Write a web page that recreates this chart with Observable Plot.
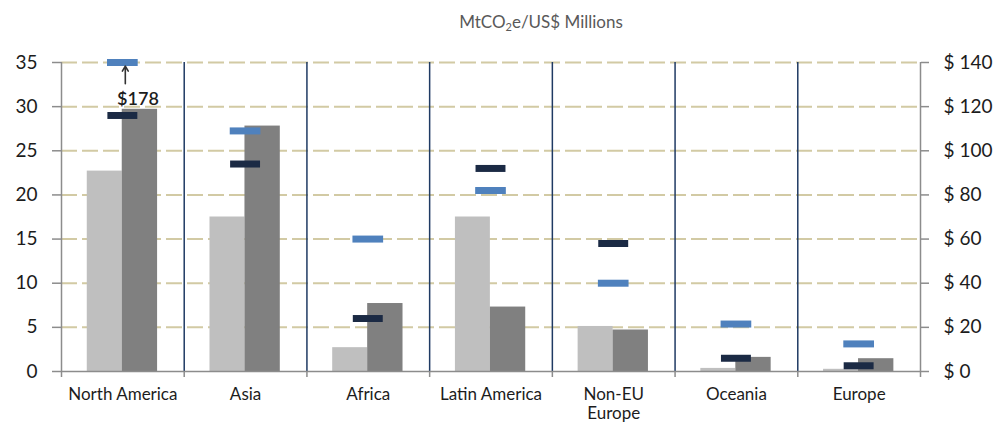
<!DOCTYPE html>
<html>
<head>
<meta charset="utf-8">
<script src="https://cdn.jsdelivr.net/npm/d3@7"></script>
<script src="https://cdn.jsdelivr.net/npm/@observablehq/plot@0.6"></script>
<style>
  html, body { margin: 0; padding: 0; background: #fff; }
  #wrap { position: relative; width: 1000px; height: 427px; overflow: hidden; font-family: Lato, "Open Sans", sans-serif; }
  #title { position: absolute; top: 11px; left: 541px; transform: translateX(-50%); font-size: 17px; color: #595959; white-space: nowrap; }
  #title sub { font-size: 11px; vertical-align: -3px; line-height: 0; }
  #chart { position: absolute; top: 40px; left: 0; }
</style>
</head>
<body>
<div id="wrap">
  <div id="title">MtCO<sub>2</sub>e/US$ Millions</div>
  <div id="chart"></div>
</div>
<script>
// Data
const categories = ["North America", "Asia", "Africa", "Latin America", "Non-EU Europe", "Oceania", "Europe"];
const categoryLabels = ["North America", "Asia", "Africa", "Latin America", "Non-EU\nEurope", "Oceania", "Europe"];
const lightBars = [22.7, 17.5, 2.7, 17.5, 5.1, 0.35, 0.25];   // MtCO2e (left axis)
const darkBars = [29.7, 27.8, 7.7, 7.3, 4.7, 1.6, 1.45];      // MtCO2e (left axis)
const navyDollars = [116, 94, 24, 92, 58, 6, 2.6];            // US$ millions (right axis)
const blueDollars = [178, 109, 60, 82, 40, 21.5, 12.5];       // US$ millions (right axis)
const leftTicks = [0, 5, 10, 15, 20, 25, 30, 35];
const dollarTicks = [0, 20, 40, 60, 80, 100, 120, 140];

const leftMax = 35, dollarMax = 140;
const ratio = dollarMax / leftMax;

const rows = categories.map((c, i) => ({
  i, category: c,
  light: lightBars[i], dark: darkBars[i],
  navy: Math.min(navyDollars[i], dollarMax) / ratio,
  blue: Math.min(blueDollars[i], dollarMax) / ratio
}));
const clipped = rows.filter((d, k) => blueDollars[k] > dollarMax).map(d => ({...d, value: blueDollars[d.i]}));

const gray = "#8c8c8c";
const textColor = "#1c1c1c";

const chart = Plot.plot({
  width: 1000,
  height: 387,
  marginTop: 22,
  marginBottom: 56,
  marginLeft: 61,
  marginRight: 80,
  x: {domain: [0, categories.length], axis: null},
  y: {domain: [0, leftMax], axis: null},
  style: {fontFamily: "Lato, 'Open Sans', sans-serif", fontSize: "18px", color: textColor, background: "white", overflow: "visible"},
  marks: [
    Plot.ruleY(leftTicks.filter(d => d > 0), {stroke: "#d2caa4", strokeWidth: 2, strokeDasharray: "16,5"}),
    Plot.rect(rows, {x1: d => d.i + 0.21, x2: d => d.i + 0.495, y1: d => 0, y2: "light", fill: "#bfbfbf"}),
    Plot.rect(rows, {x1: d => d.i + 0.495, x2: d => d.i + 0.783, y1: d => 0, y2: "dark", fill: "#808080"}),
    Plot.ruleX(d3.range(1, categories.length), {stroke: "#1f3a63", strokeWidth: 1.5}),
    Plot.ruleX([0, categories.length], {stroke: gray, strokeWidth: 1.5}),
    Plot.ruleY([0], {stroke: gray, strokeWidth: 1.5}),
    Plot.ruleY(rows, {x1: d => d.i + 0.378, x2: d => d.i + 0.622, y: "navy", stroke: "#1b2a44", strokeWidth: 7}),
    Plot.ruleY(rows, {x1: d => d.i + 0.375, x2: d => d.i + 0.625, y: "blue", stroke: "#4f81bd", strokeWidth: 7}),
    Plot.arrow(clipped, {x1: d => d.i + 0.52, x2: d => d.i + 0.52, y1: d => d.blue - 2.4, y2: d => d.blue - 0.4, stroke: "#333", strokeWidth: 1.6, headLength: 9, bend: 0}),
    Plot.text(clipped, {x: d => d.i + 0.623, y: d => d.blue - 4.15, text: d => "$" + d.value, fontSize: 18, fontWeight: 600, fill: textColor}),
    Plot.axisY({ticks: leftTicks, tickSize: 9, tickPadding: 15, stroke: gray, strokeWidth: 1.5, fill: textColor, fontSize: 19}),
    Plot.axisY({anchor: "right", ticks: dollarTicks.map(d => d / ratio), tickFormat: d => "$ " + Math.round(d * ratio), tickSize: 8, tickPadding: 15, stroke: gray, strokeWidth: 1.5, fill: textColor, fontSize: 19}),
    Plot.axisX({ticks: d3.range(0, categories.length + 1), tickSize: 6, tickFormat: () => "", stroke: gray, strokeWidth: 1.5}),
    Plot.axisX({ticks: d3.range(categories.length).map(i => i + 0.5), tickFormat: v => categoryLabels[Math.floor(v)], tickSize: 0, tickPadding: 15, fill: textColor, fontSize: 17, lineHeight: 1.12})
  ]
});
document.getElementById("chart").appendChild(chart);
</script>
</body>
</html>
